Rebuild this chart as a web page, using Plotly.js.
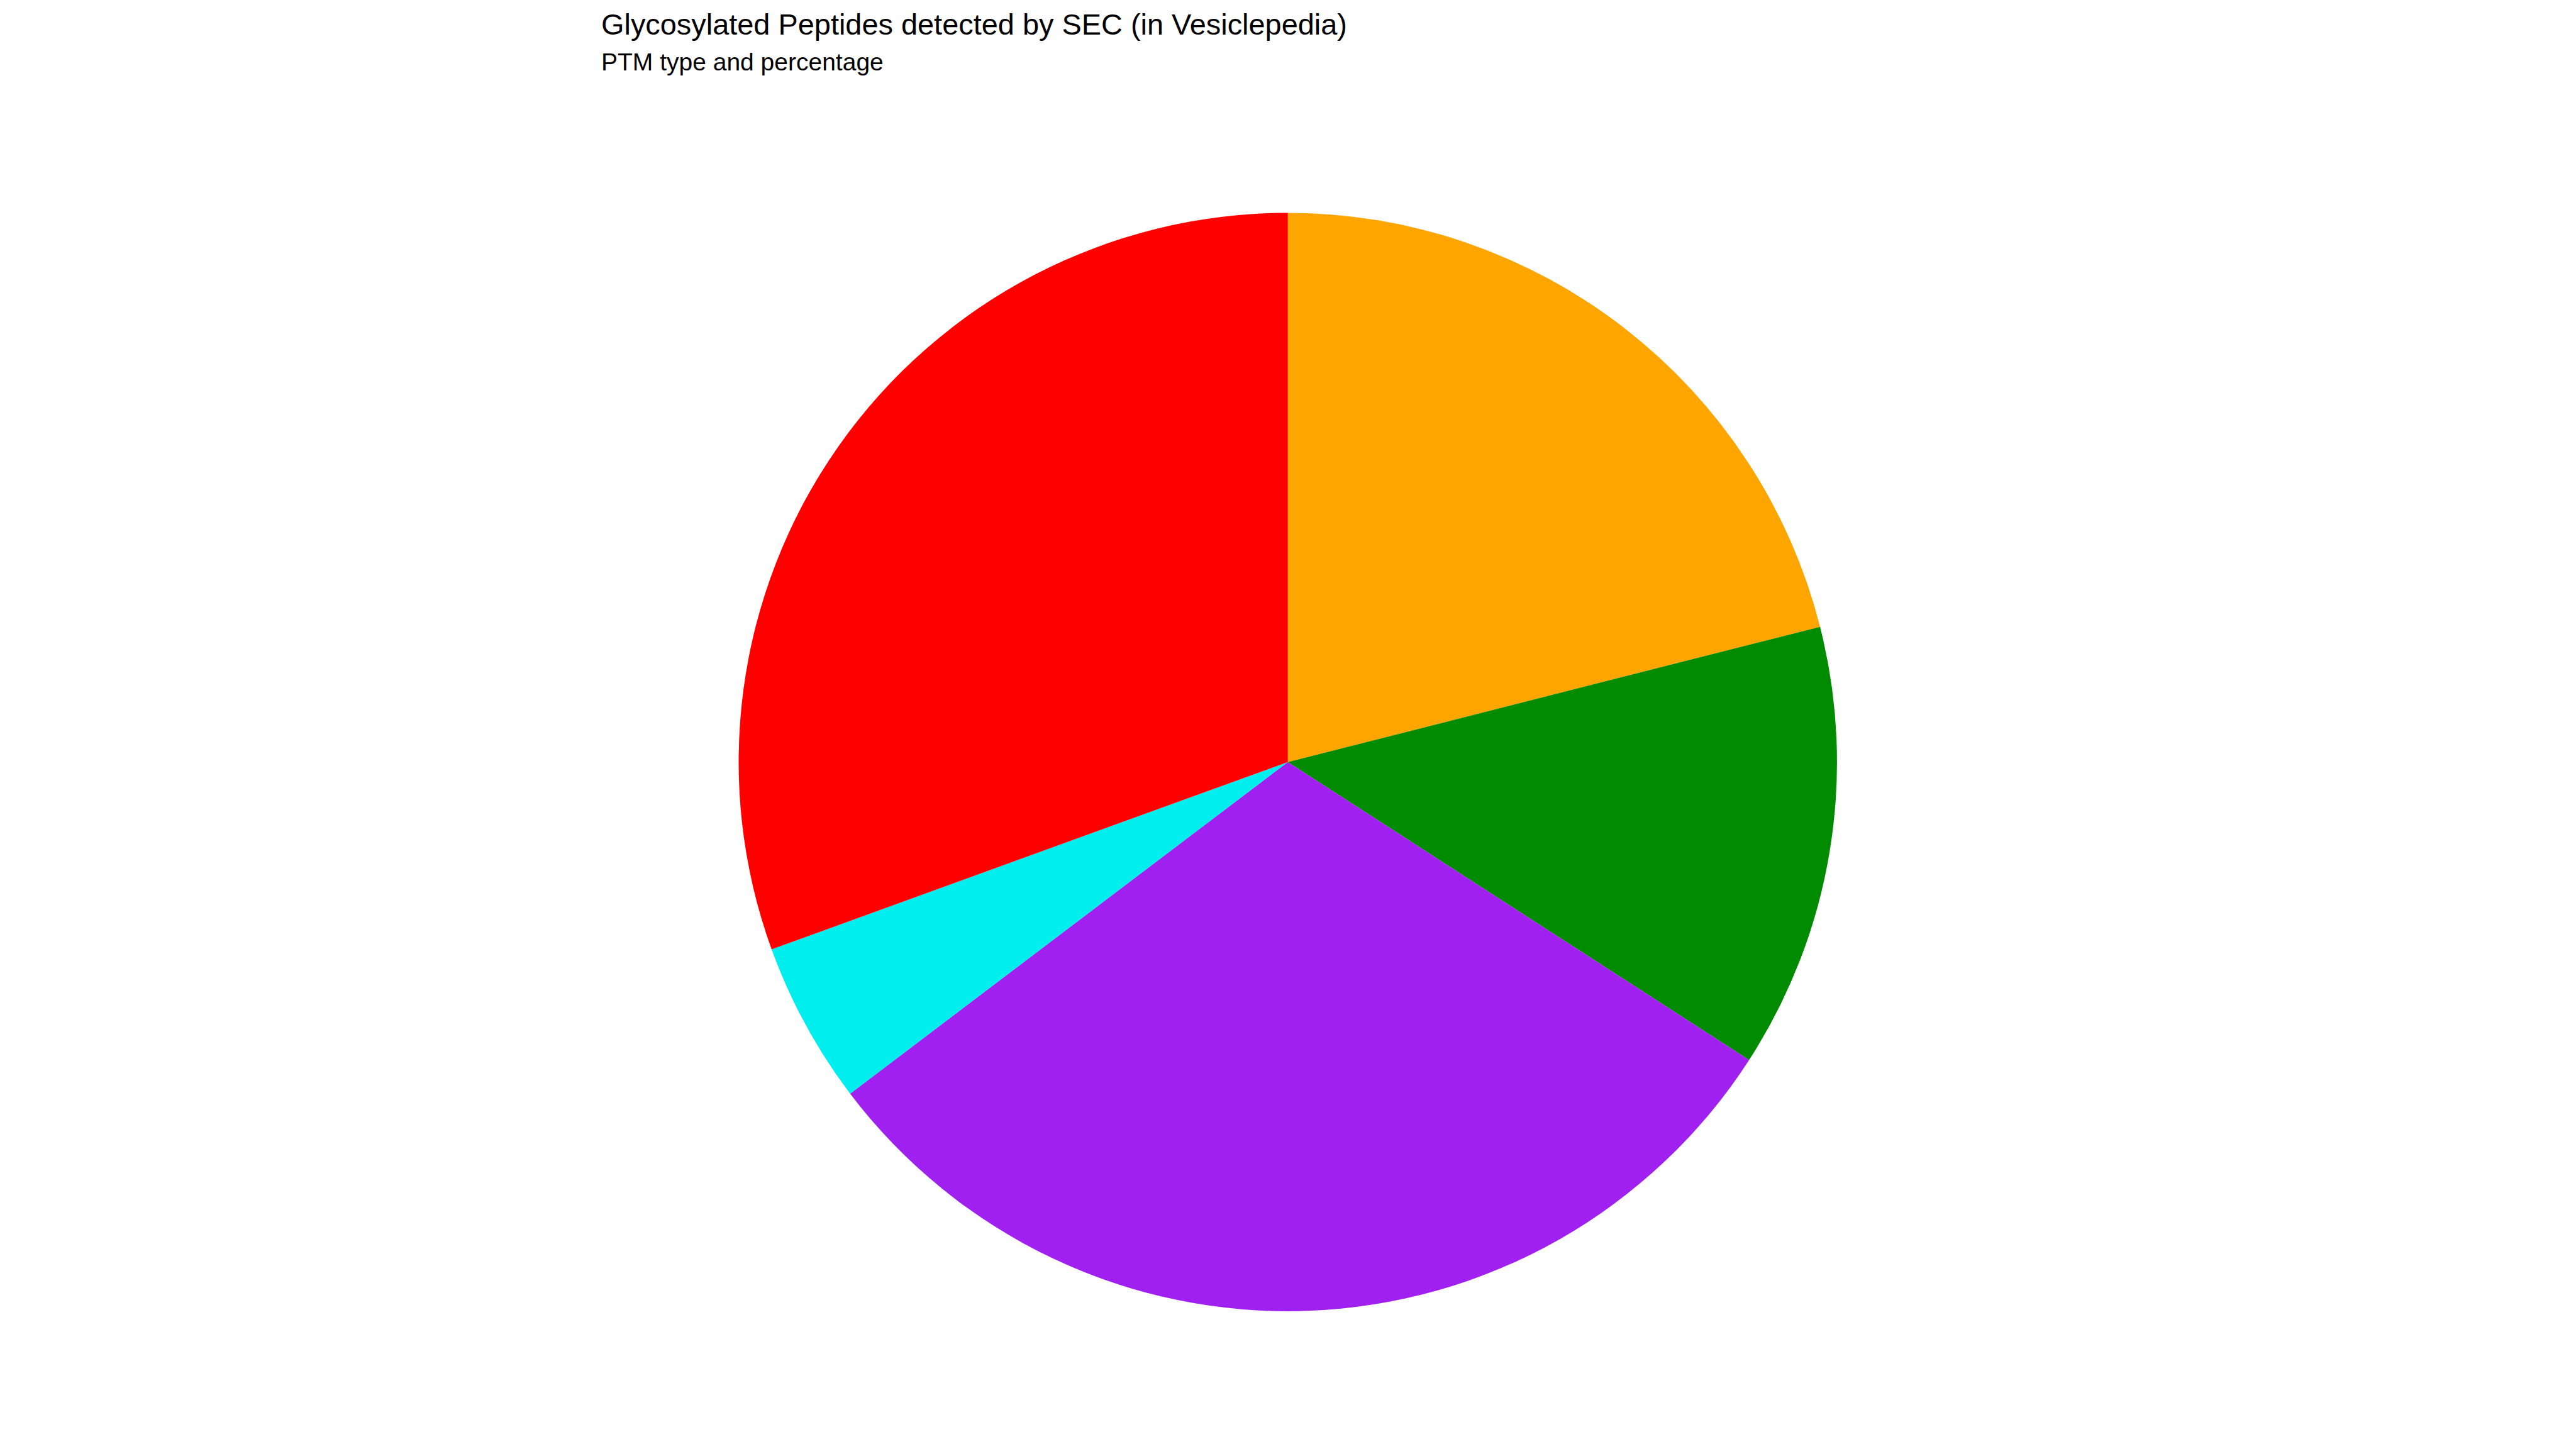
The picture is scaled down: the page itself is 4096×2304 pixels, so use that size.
<!DOCTYPE html>
<html>
<head>
<meta charset="utf-8">
<script src="https://cdn.plot.ly/plotly-3.0.1.min.js"></script>
<style>html,body{margin:0;padding:0;background:#fff;}#chart{width:4096px;height:2304px;}</style>
</head>
<body>
<div id="chart"></div>
<script>
// Data (percent of glycosylated peptides by PTM type)
const ptmTypes = ["Type A", "Type B", "Type C", "Type D", "Type E"];
const ptmPercent = [21.04, 13.09, 30.55, 4.78, 30.54];
const sliceColors = ["#FFA500", "#008B00", "#A020F0", "#00EEEE", "#FF0000"];
const titleText = "Glycosylated Peptides detected by SEC (in Vesiclepedia)";
const subtitleText = "PTM type and percentage";

const trace = {
  type: "pie",
  labels: ptmTypes,
  values: ptmPercent,
  sort: false,
  direction: "clockwise",
  rotation: 0,
  textinfo: "none",
  hoverinfo: "label+percent",
  marker: { colors: sliceColors, line: { width: 0 } },
  domain: { x: [0.28675, 0.71312], y: [0.0951, 0.8531] },
  showlegend: false
};

const layout = {
  width: 4096,
  height: 2304,
  margin: { l: 0, r: 0, t: 0, b: 0 },
  paper_bgcolor: "#ffffff",
  plot_bgcolor: "#ffffff",
  showlegend: false,
  font: { family: "Liberation Sans, Arial, sans-serif", color: "#000000" },
  annotations: [
    {
      text: titleText, xref: "paper", yref: "paper",
      x: 953.5 / 4096, y: 0.9954, xanchor: "left", yanchor: "top",
      showarrow: false, borderpad: 1,
      font: { size: 46.9, color: "#000000", family: "Liberation Sans, Arial, sans-serif" }
    },
    {
      text: subtitleText, xref: "paper", yref: "paper",
      x: 953.5 / 4096, y: 0.96736, xanchor: "left", yanchor: "top",
      showarrow: false, borderpad: 1,
      font: { size: 39, color: "#000000", family: "Liberation Sans, Arial, sans-serif" }
    }
  ]
};

Plotly.newPlot("chart", [trace], layout, { displayModeBar: false, staticPlot: true });
</script>
</body>
</html>
